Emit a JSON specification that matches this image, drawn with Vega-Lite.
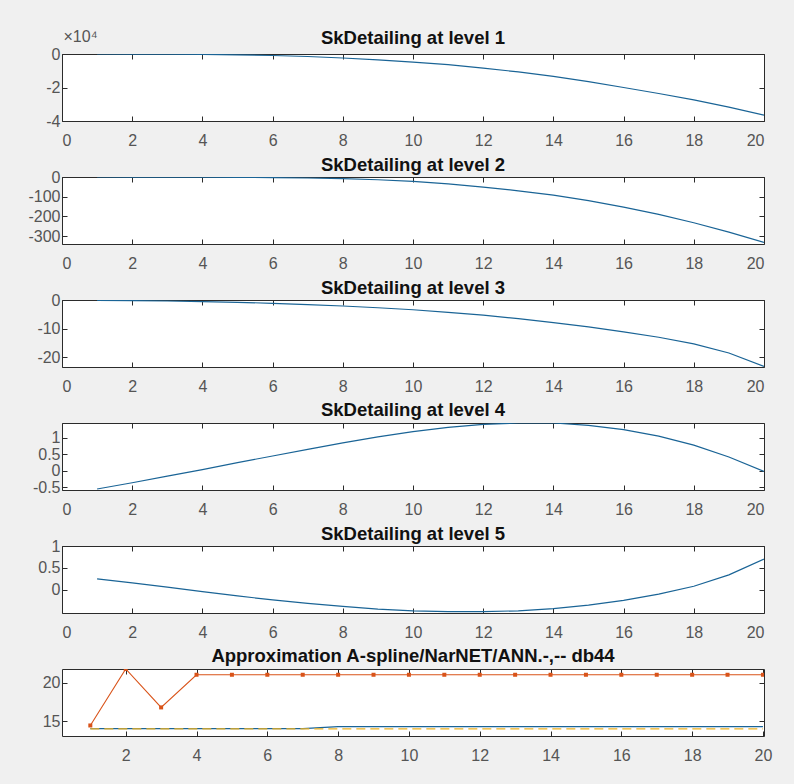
{
  "$schema": "https://vega.github.io/schema/vega-lite/v6.json",
  "background": "#f0f0f0",
  "padding": {"left": 27, "top": 27, "right": 40, "bottom": 40},
  "spacing": 56,
  "bounds": "flush",
  "config": {
    "font": "Liberation Sans",
    "view": {"fill": "white", "stroke": "#2b2b2b", "strokeWidth": 1},
    "axis": {"domain": false, "grid": false, "labelFont": "Liberation Sans", "labelFontSize": 16, "labelColor": "#555555", "tickColor": "#2b2b2b", "tickSize": -5, "tickWidth": 1, "title": null,
             "labelExpr": "datum.value < 0 ? '-' + format(-datum.value, '~g') : format(datum.value, '~g')"},
    "axisBottom": {"labelPadding": 16},
    "axisLeft": {"labelPadding": 7},
    "title": {"font": "Liberation Sans", "fontSize": 18.5, "fontWeight": "bold", "color": "#111111", "offset": -5, "anchor": "middle"}
  },
  "datasets": {
    "l1": [
      {"x": 1, "y": -0.0005}, {"x": 2, "y": -0.003}, {"x": 3, "y": -0.01}, {"x": 4, "y": -0.025}, {"x": 5, "y": -0.05},
      {"x": 6, "y": -0.09}, {"x": 7, "y": -0.15}, {"x": 8, "y": -0.24}, {"x": 9, "y": -0.35}, {"x": 10, "y": -0.48},
      {"x": 11, "y": -0.64}, {"x": 12, "y": -0.84}, {"x": 13, "y": -1.07}, {"x": 14, "y": -1.34}, {"x": 15, "y": -1.65},
      {"x": 16, "y": -2.0}, {"x": 17, "y": -2.36}, {"x": 18, "y": -2.74}, {"x": 19, "y": -3.17}, {"x": 20, "y": -3.65}
    ],
    "l2": [
      {"x": 1, "y": -0.1}, {"x": 2, "y": -0.3}, {"x": 3, "y": -0.6}, {"x": 4, "y": -1}, {"x": 5, "y": -2},
      {"x": 6, "y": -3}, {"x": 7, "y": -5}, {"x": 8, "y": -8}, {"x": 9, "y": -14}, {"x": 10, "y": -22},
      {"x": 11, "y": -35}, {"x": 12, "y": -51}, {"x": 13, "y": -70}, {"x": 14, "y": -92}, {"x": 15, "y": -120},
      {"x": 16, "y": -153}, {"x": 17, "y": -190}, {"x": 18, "y": -232}, {"x": 19, "y": -280}, {"x": 20, "y": -332}
    ],
    "l3": [
      {"x": 1, "y": -0.1}, {"x": 2, "y": -0.2}, {"x": 3, "y": -0.35}, {"x": 4, "y": -0.55}, {"x": 5, "y": -0.8},
      {"x": 6, "y": -1.15}, {"x": 7, "y": -1.6}, {"x": 8, "y": -2.1}, {"x": 9, "y": -2.7}, {"x": 10, "y": -3.4},
      {"x": 11, "y": -4.3}, {"x": 12, "y": -5.3}, {"x": 13, "y": -6.5}, {"x": 14, "y": -7.9}, {"x": 15, "y": -9.4},
      {"x": 16, "y": -11.1}, {"x": 17, "y": -13.0}, {"x": 18, "y": -15.3}, {"x": 19, "y": -18.5}, {"x": 20, "y": -23.2}
    ],
    "l4": [
      {"x": 1, "y": -0.55}, {"x": 2, "y": -0.36}, {"x": 3, "y": -0.16}, {"x": 4, "y": 0.04}, {"x": 5, "y": 0.25},
      {"x": 6, "y": 0.45}, {"x": 7, "y": 0.65}, {"x": 8, "y": 0.85}, {"x": 9, "y": 1.03}, {"x": 10, "y": 1.19},
      {"x": 11, "y": 1.32}, {"x": 12, "y": 1.41}, {"x": 13, "y": 1.45}, {"x": 14, "y": 1.45}, {"x": 15, "y": 1.38},
      {"x": 16, "y": 1.25}, {"x": 17, "y": 1.05}, {"x": 18, "y": 0.78}, {"x": 19, "y": 0.42}, {"x": 20, "y": -0.02}
    ],
    "l5": [
      {"x": 1, "y": 0.25}, {"x": 2, "y": 0.16}, {"x": 3, "y": 0.06}, {"x": 4, "y": -0.04}, {"x": 5, "y": -0.14},
      {"x": 6, "y": -0.23}, {"x": 7, "y": -0.31}, {"x": 8, "y": -0.38}, {"x": 9, "y": -0.44}, {"x": 10, "y": -0.48},
      {"x": 11, "y": -0.5}, {"x": 12, "y": -0.5}, {"x": 13, "y": -0.48}, {"x": 14, "y": -0.43}, {"x": 15, "y": -0.35},
      {"x": 16, "y": -0.24}, {"x": 17, "y": -0.1}, {"x": 18, "y": 0.08}, {"x": 19, "y": 0.34}, {"x": 20, "y": 0.7}
    ],
    "l6": [
      {"x": 1, "y": 14.05, "s": "blue"}, {"x": 2, "y": 14.05, "s": "blue"}, {"x": 3, "y": 14.05, "s": "blue"}, {"x": 4, "y": 14.05, "s": "blue"}, {"x": 5, "y": 14.05, "s": "blue"},
      {"x": 6, "y": 14.05, "s": "blue"}, {"x": 7, "y": 14.05, "s": "blue"}, {"x": 8, "y": 14.3, "s": "blue"}, {"x": 9, "y": 14.3, "s": "blue"}, {"x": 10, "y": 14.3, "s": "blue"},
      {"x": 11, "y": 14.3, "s": "blue"}, {"x": 12, "y": 14.3, "s": "blue"}, {"x": 13, "y": 14.3, "s": "blue"}, {"x": 14, "y": 14.3, "s": "blue"}, {"x": 15, "y": 14.3, "s": "blue"},
      {"x": 16, "y": 14.3, "s": "blue"}, {"x": 17, "y": 14.3, "s": "blue"}, {"x": 18, "y": 14.3, "s": "blue"}, {"x": 19, "y": 14.3, "s": "blue"}, {"x": 20, "y": 14.3, "s": "blue"},
      {"x": 1, "y": 14.45, "s": "red"}, {"x": 2, "y": 21.8, "s": "red"}, {"x": 3, "y": 16.8, "s": "red"}, {"x": 4, "y": 21.05, "s": "red"}, {"x": 5, "y": 21.05, "s": "red"},
      {"x": 6, "y": 21.05, "s": "red"}, {"x": 7, "y": 21.05, "s": "red"}, {"x": 8, "y": 21.05, "s": "red"}, {"x": 9, "y": 21.05, "s": "red"}, {"x": 10, "y": 21.05, "s": "red"},
      {"x": 11, "y": 21.05, "s": "red"}, {"x": 12, "y": 21.05, "s": "red"}, {"x": 13, "y": 21.05, "s": "red"}, {"x": 14, "y": 21.05, "s": "red"}, {"x": 15, "y": 21.05, "s": "red"},
      {"x": 16, "y": 21.05, "s": "red"}, {"x": 17, "y": 21.05, "s": "red"}, {"x": 18, "y": 21.05, "s": "red"}, {"x": 19, "y": 21.05, "s": "red"}, {"x": 20, "y": 21.05, "s": "red"},
      {"x": 1, "y": 14.0, "s": "yellow"}, {"x": 2, "y": 14.0, "s": "yellow"}, {"x": 3, "y": 14.0, "s": "yellow"}, {"x": 4, "y": 14.0, "s": "yellow"}, {"x": 5, "y": 14.0, "s": "yellow"},
      {"x": 6, "y": 14.0, "s": "yellow"}, {"x": 7, "y": 14.0, "s": "yellow"}, {"x": 8, "y": 14.0, "s": "yellow"}, {"x": 9, "y": 14.0, "s": "yellow"}, {"x": 10, "y": 14.0, "s": "yellow"},
      {"x": 11, "y": 14.0, "s": "yellow"}, {"x": 12, "y": 14.0, "s": "yellow"}, {"x": 13, "y": 14.0, "s": "yellow"}, {"x": 14, "y": 14.0, "s": "yellow"}, {"x": 15, "y": 14.0, "s": "yellow"},
      {"x": 16, "y": 14.0, "s": "yellow"}, {"x": 17, "y": 14.0, "s": "yellow"}, {"x": 18, "y": 14.0, "s": "yellow"}, {"x": 19, "y": 14.0, "s": "yellow"}, {"x": 20, "y": 14.0, "s": "yellow"}
    ]
  },
  "vconcat": [
    {
      "title": {"text": "SkDetailing at level 1", "offset": -19},
      "width": 702, "height": 67,
      "data": {"name": "l1"},
      "layer": [
        {"mark": {"type": "line", "color": "#1a6496", "strokeWidth": 1.2, "clip": true},
         "encoding": {
           "x": {"field": "x", "type": "quantitative", "scale": {"domain": [0, 20], "nice": false, "zero": false}, "axis": {"orient": "bottom", "values": [0, 2, 4, 6, 8, 10, 12, 14, 16, 18, 20]}},
           "y": {"field": "y", "type": "quantitative", "scale": {"domain": [-4, 0], "nice": false, "zero": false}, "axis": {"orient": "left", "values": [0, -2, -4], "title": "×10⁴", "titleAngle": 0, "titleAlign": "left", "titleBaseline": "alphabetic", "titleX": 1, "titleY": -13, "titleFontSize": 16, "titleFontWeight": "normal", "titleColor": "#555555", "titleFont": "Liberation Sans"}}
         }},
        {"mark": {"type": "line", "opacity": 0},
         "encoding": {
           "x": {"field": "x", "type": "quantitative", "axis": {"orient": "top", "labels": false, "values": [0, 2, 4, 6, 8, 10, 12, 14, 16, 18, 20]}},
           "y": {"field": "y", "type": "quantitative", "axis": {"orient": "right", "labels": false, "values": [0, -2, -4]}}
         }}
      ],
      "resolve": {"axis": {"x": "independent", "y": "independent"}}
    },
    {
      "title": "SkDetailing at level 2",
      "width": 702, "height": 67,
      "data": {"name": "l2"},
      "layer": [
        {"mark": {"type": "line", "color": "#1a6496", "strokeWidth": 1.2, "clip": true},
         "encoding": {
           "x": {"field": "x", "type": "quantitative", "scale": {"domain": [0, 20], "nice": false, "zero": false}, "axis": {"orient": "bottom", "values": [0, 2, 4, 6, 8, 10, 12, 14, 16, 18, 20]}},
           "y": {"field": "y", "type": "quantitative", "scale": {"domain": [-340, 0], "nice": false, "zero": false}, "axis": {"orient": "left", "values": [0, -100, -200, -300]}}
         }},
        {"mark": {"type": "line", "opacity": 0},
         "encoding": {
           "x": {"field": "x", "type": "quantitative", "axis": {"orient": "top", "labels": false, "values": [0, 2, 4, 6, 8, 10, 12, 14, 16, 18, 20]}},
           "y": {"field": "y", "type": "quantitative", "axis": {"orient": "right", "labels": false, "values": [0, -100, -200, -300]}}
         }}
      ],
      "resolve": {"axis": {"x": "independent", "y": "independent"}}
    },
    {
      "title": "SkDetailing at level 3",
      "width": 702, "height": 67,
      "data": {"name": "l3"},
      "layer": [
        {"mark": {"type": "line", "color": "#1a6496", "strokeWidth": 1.2, "clip": true},
         "encoding": {
           "x": {"field": "x", "type": "quantitative", "scale": {"domain": [0, 20], "nice": false, "zero": false}, "axis": {"orient": "bottom", "values": [0, 2, 4, 6, 8, 10, 12, 14, 16, 18, 20]}},
           "y": {"field": "y", "type": "quantitative", "scale": {"domain": [-23.4, 0], "nice": false, "zero": false}, "axis": {"orient": "left", "values": [0, -10, -20]}}
         }},
        {"mark": {"type": "line", "opacity": 0},
         "encoding": {
           "x": {"field": "x", "type": "quantitative", "axis": {"orient": "top", "labels": false, "values": [0, 2, 4, 6, 8, 10, 12, 14, 16, 18, 20]}},
           "y": {"field": "y", "type": "quantitative", "axis": {"orient": "right", "labels": false, "values": [0, -10, -20]}}
         }}
      ],
      "resolve": {"axis": {"x": "independent", "y": "independent"}}
    },
    {
      "title": {"text": "SkDetailing at level 4", "offset": 3},
      "width": 702, "height": 67,
      "data": {"name": "l4"},
      "layer": [
        {"mark": {"type": "line", "color": "#1a6496", "strokeWidth": 1.2, "clip": true},
         "encoding": {
           "x": {"field": "x", "type": "quantitative", "scale": {"domain": [0, 20], "nice": false, "zero": false}, "axis": {"orient": "bottom", "values": [0, 2, 4, 6, 8, 10, 12, 14, 16, 18, 20]}},
           "y": {"field": "y", "type": "quantitative", "scale": {"domain": [-0.58, 1.45], "nice": false, "zero": false}, "axis": {"orient": "left", "values": [1, 0.5, 0, -0.5]}}
         }},
        {"mark": {"type": "line", "opacity": 0},
         "encoding": {
           "x": {"field": "x", "type": "quantitative", "axis": {"orient": "top", "labels": false, "values": [0, 2, 4, 6, 8, 10, 12, 14, 16, 18, 20]}},
           "y": {"field": "y", "type": "quantitative", "axis": {"orient": "right", "labels": false, "values": [1, 0.5, 0, -0.5]}}
         }}
      ],
      "resolve": {"axis": {"x": "independent", "y": "independent"}}
    },
    {
      "title": "SkDetailing at level 5",
      "width": 702, "height": 67,
      "data": {"name": "l5"},
      "layer": [
        {"mark": {"type": "line", "color": "#1a6496", "strokeWidth": 1.2, "clip": true},
         "encoding": {
           "x": {"field": "x", "type": "quantitative", "scale": {"domain": [0, 20], "nice": false, "zero": false}, "axis": {"orient": "bottom", "values": [0, 2, 4, 6, 8, 10, 12, 14, 16, 18, 20]}},
           "y": {"field": "y", "type": "quantitative", "scale": {"domain": [-0.53, 1], "nice": false, "zero": false}, "axis": {"orient": "left", "values": [1, 0.5, 0]}}
         }},
        {"mark": {"type": "line", "opacity": 0},
         "encoding": {
           "x": {"field": "x", "type": "quantitative", "axis": {"orient": "top", "labels": false, "values": [0, 2, 4, 6, 8, 10, 12, 14, 16, 18, 20]}},
           "y": {"field": "y", "type": "quantitative", "axis": {"orient": "right", "labels": false, "values": [1, 0.5, 0]}}
         }}
      ],
      "resolve": {"axis": {"x": "independent", "y": "independent"}}
    },
    {
      "title": {"text": "Approximation A-spline/NarNET/ANN.-,-- db44", "offset": 3},
      "width": 702, "height": 67,
      "data": {"name": "l6"},
      "layer": [
        {"transform": [{"filter": "datum.s === 'blue'"}],
         "mark": {"type": "line", "color": "#1a6496", "strokeWidth": 1.2, "clip": true},
         "encoding": {
           "x": {"field": "x", "type": "quantitative", "scale": {"domain": [0.2, 20.03], "nice": false, "zero": false}, "axis": {"orient": "bottom", "values": [2, 4, 6, 8, 10, 12, 14, 16, 18, 20]}},
           "y": {"field": "y", "type": "quantitative", "scale": {"domain": [13.08, 21.8], "nice": false, "zero": false}, "axis": {"orient": "left", "values": [15, 20]}}
         }},
        {"transform": [{"filter": "datum.s === 'red'"}],
         "mark": {"type": "line", "color": "#D95319", "strokeWidth": 1.1, "clip": true, "point": {"shape": "square", "filled": true, "size": 16, "color": "#D95319"}},
         "encoding": {
           "x": {"field": "x", "type": "quantitative", "axis": null},
           "y": {"field": "y", "type": "quantitative", "axis": null}
         }},
        {"transform": [{"filter": "datum.s === 'yellow'"}],
         "mark": {"type": "line", "color": "#EDB120", "strokeWidth": 1.3, "strokeDash": [9, 5], "clip": true},
         "encoding": {
           "x": {"field": "x", "type": "quantitative", "axis": null},
           "y": {"field": "y", "type": "quantitative", "axis": null}
         }},
        {"mark": {"type": "line", "opacity": 0},
         "encoding": {
           "x": {"field": "x", "type": "quantitative", "axis": {"orient": "top", "labels": false, "values": [2, 4, 6, 8, 10, 12, 14, 16, 18, 20]}},
           "y": {"field": "y", "type": "quantitative", "axis": {"orient": "right", "labels": false, "values": [15, 20]}}
         }}
      ],
      "resolve": {"axis": {"x": "independent", "y": "independent"}}
    }
  ]
}
